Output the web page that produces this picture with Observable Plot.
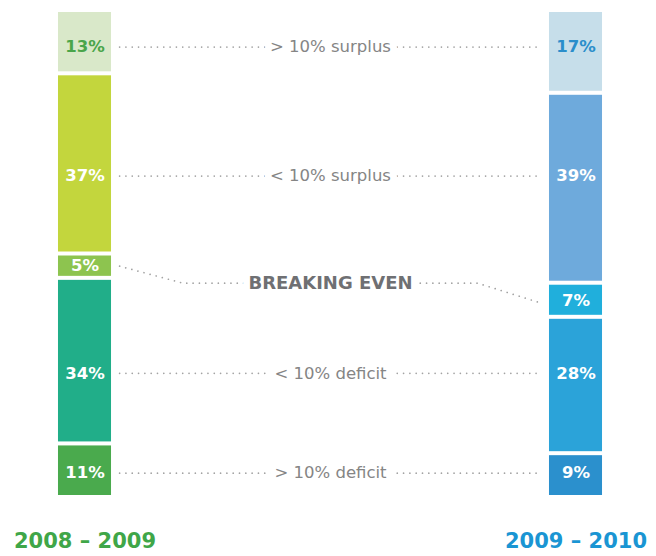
<!DOCTYPE html>
<html>
<head>
<meta charset="utf-8">
<script src="https://cdn.jsdelivr.net/npm/d3@7"></script>
<script src="https://cdn.jsdelivr.net/npm/@observablehq/plot@0.6"></script>
<style>
  html, body { margin: 0; padding: 0; background: #fff; }
  #chart svg { display: block; }
</style>
</head>
<body>
<div id="chart"></div>
<script>
// ---- data ----
const periods = ["2008 – 2009", "2009 – 2010"];
const categories = ["> 10% surplus", "< 10% surplus", "BREAKING EVEN", "< 10% deficit", "> 10% deficit"];
const share0809 = [13, 37, 5, 34, 11];
const share0910 = [17, 39, 7, 28, 9];

// ---- styles ----
const colors0809 = ["#d9e8c9", "#c3d63d", "#8dc44f", "#21ae89", "#4aaa4d"];
const colors0910 = ["#c6deea", "#6eaadc", "#20afdc", "#2ba3d9", "#2b90cd"];
const periodColors = ["#3fa648", "#1a95d3"];
const topLabelColors = ["#4aa54a", "#2a8ecb"];
const FONT = "'DejaVu Sans', sans-serif";

const shares = [share0809, share0910];
const palettes = [colors0809, colors0910];

// stacked segments
const segments = [];
periods.forEach((p, pi) => {
  let acc = 0;
  shares[pi].forEach((v, ci) => {
    segments.push({period: p, pi, ci, category: categories[ci], value: v,
      y1: acc, y2: acc + v, mid: acc + v / 2, color: palettes[pi][ci]});
    acc += v;
  });
});
const seg = (pi, ci) => segments.find(s => s.pi === pi && s.ci === ci);

// rows: label position between the two columns
const BE = 2;
const rows = categories.map((c, ci) => ({
  category: c, ci,
  ly: (seg(0, ci).mid + seg(1, ci).mid) / 2
}));

// value labels
const valueLabels = segments.map(s => ({
  ...s,
  ly: s.ci === BE ? s.mid : rows[s.ci].ly,
  text: s.value + "%",
  fill: s.ci === 0 ? topLabelColors[s.pi] : "#ffffff"
}));

// layout constants (x in column-index units)
const hw = 0.054;     // half bar width
const gap = 0.0165;   // gap between bar and dotted leader
const kink = 0.2;     // where the breaking-even leader turns horizontal

const leaders = [];
rows.forEach(r => {
  if (r.ci === BE) {
    const pts = [
      {x: hw + gap, y: seg(0, BE).mid},
      {x: kink, y: r.ly},
      {x: 1 - kink, y: r.ly},
      {x: 1 - hw - gap, y: seg(1, BE).mid + 0.6}
    ];
    pts.forEach(p => leaders.push({...p, row: r.ci}));
  } else {
    leaders.push({x: hw + gap, y: r.ly, row: r.ci});
    leaders.push({x: 1 - hw - gap, y: r.ly, row: r.ci});
  }
});

const chart = Plot.plot({
  width: 656,
  height: 556,
  marginTop: 10,
  marginBottom: 59,
  x: {type: "linear", domain: [0, 1], range: [84.5, 575.5], axis: null},
  y: {domain: [0, 100], range: [10, 497], axis: null},
  color: {type: "identity"},
  style: {fontFamily: FONT, background: "#fff"},
  marks: [
    Plot.rect(segments, {
      x1: d => d.pi - hw, x2: d => d.pi + hw,
      y1: "y1", y2: "y2", fill: "color",
      insetTop: 2, insetBottom: 2
    }),
    Plot.line(leaders, {
      x: "x", y: "y", z: "row",
      stroke: "#a3a3a3", strokeWidth: 1.7,
      strokeLinecap: "round",
      strokeDasharray: "0.01 6.3"
    }),
    Plot.text(rows.filter(r => r.ci !== BE), {
      x: 0.5, y: "ly", text: "category",
      fill: "#858585", fontSize: 16.5,
      stroke: "#ffffff", strokeWidth: 14, paintOrder: "stroke"
    }),
    Plot.text(rows.filter(r => r.ci === BE), {
      x: 0.5, y: "ly", text: "category",
      fill: "#6f7073", fontSize: 18, fontWeight: "bold",
      stroke: "#ffffff", strokeWidth: 14, paintOrder: "stroke"
    }),
    Plot.text(valueLabels, {
      x: "pi", y: "ly", text: "text",
      fill: "fill", fontWeight: "bold", fontSize: 16.5
    }),
    Plot.text(periods, {
      x: (d, i) => i, frameAnchor: "bottom", dy: 50,
      text: d => d, fill: (d, i) => periodColors[i],
      fontWeight: "bold", fontSize: 21
    })
  ]
});
document.getElementById("chart").append(chart);
</script>
</body>
</html>
